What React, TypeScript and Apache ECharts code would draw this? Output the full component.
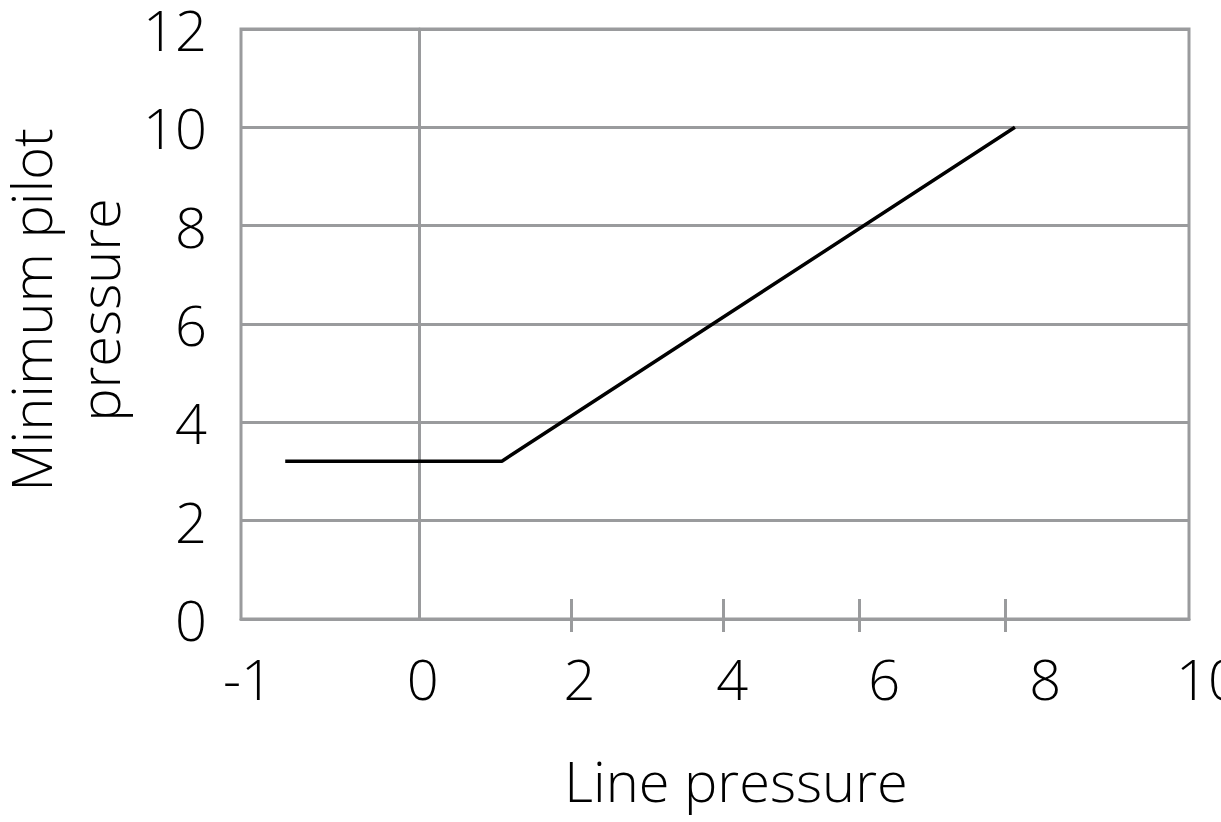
import React, { useEffect, useRef } from "react";
import * as echarts from "echarts";

// Data
const linePressure = [-1.76, 1.09, 7.84];
const minPilotPressure = [3.21, 3.21, 10];

const xTickLabels = ["-1", "0", "2", "4", "6", "8", "10"];
const xLabelPositions = [-2.25, 0.05, 2.11, 4.12, 6.12, 8.24, 10.13];
const xTickPositions = [2, 4, 5.79, 7.71];
const xGridLinePositions = [0];

const xMin = -2.342;
const xMax = 10.13;
const yMin = 0;
const yMax = 12;
const yStep = 2;

const GRAY = "#9a9b9d";
const FONT = "'Open Sans', Roboto, sans-serif";
const FS = 56;

export default function App() {
  const ref = useRef<HTMLDivElement | null>(null);

  useEffect(() => {
    if (!ref.current) return;
    const chart = echarts.init(ref.current, undefined, { renderer: "svg" });

    const labelFor = (v: number) => {
      let best = 0;
      let bd = Infinity;
      xLabelPositions.forEach((p, i) => {
        const d = Math.abs(p - v);
        if (d < bd) {
          bd = d;
          best = i;
        }
      });
      return best === xTickLabels.length - 1
        ? `{last|${xTickLabels[best]}}`
        : xTickLabels[best];
    };

    const textBase = {
      fontFamily: FONT,
      fontWeight: 300,
      fontSize: FS,
      color: "#000",
    };

    const option: any = {
      animation: false,
      backgroundColor: "#ffffff",
      grid: {
        left: 241,
        right: 1221 - 1189,
        top: 29,
        bottom: 822 - 619,
        containLabel: false,
        outerBoundsMode: "none",
        show: true,
        borderColor: GRAY,
        borderWidth: 3,
        backgroundColor: "transparent",
      },
      xAxis: [
        {
          type: "value",
          min: xMin,
          max: xMax,
          position: "bottom",
          name: "Line pressure",
          nameLocation: "middle",
          nameGap: 133,
          nameTextStyle: {
            ...textBase,
            padding: [0, 0, 0, 42],
          },
          axisLine: { show: true, lineStyle: { color: GRAY, width: 3 } },
          axisTick: {
            show: true,
            inside: true,
            length: 20,
            customValues: xTickPositions,
            lineStyle: { color: GRAY, width: 3 },
          },
          axisLabel: {
            show: true,
            customValues: xLabelPositions,
            margin: 31,
            ...textBase,
            lineHeight: FS,
            formatter: (v: number) => labelFor(v),
            rich: {
              last: {
                ...textBase,
                lineHeight: FS,
                padding: [0, 0, 0, 38],
              },
            },
          },
          splitLine: { show: false },
        },
        {
          type: "value",
          min: xMin,
          max: xMax,
          position: "bottom",
          axisLine: { show: false },
          axisTick: {
            show: true,
            inside: false,
            length: 13,
            customValues: xTickPositions,
            lineStyle: { color: GRAY, width: 3 },
          },
          axisLabel: { show: false },
          splitLine: { show: false },
        },
      ],
      yAxis: {
        type: "value",
        min: yMin,
        max: yMax,
        interval: yStep,
        name: "Minimum pilot\npressure",
        nameLocation: "middle",
        nameGap: 102,
        nameTextStyle: {
          ...textBase,
          lineHeight: 68,
          align: "center",
          padding: [0, 0, 0, 28],
        },
        axisLine: { show: true, lineStyle: { color: GRAY, width: 3 } },
        axisTick: { show: false },
        axisLabel: {
          margin: 34,
          ...textBase,
          lineHeight: 50,
        },
        splitLine: { show: true, lineStyle: { color: GRAY, width: 3 } },
      },
      series: [
        {
          type: "line",
          xAxisIndex: 0,
          data: [],
          z: 1,
          silent: true,
          markLine: {
            silent: true,
            symbol: ["none", "none"],
            label: { show: false },
            lineStyle: { color: GRAY, width: 3, type: "solid" },
            data: xGridLinePositions.map((x) => ({ xAxis: x })),
          },
        },
        {
          type: "line",
          xAxisIndex: 0,
          z: 5,
          data: linePressure.map((x, i) => [x, minPilotPressure[i]]),
          showSymbol: false,
          symbol: "none",
          lineStyle: { color: "#000", width: 3.5 },
          silent: true,
        },
      ],
    };

    chart.setOption(option);
    return () => chart.dispose();
  }, []);

  return (
    <div
      ref={ref}
      style={{ position: "fixed", left: 0, top: 0, width: 1221, height: 822 }}
    />
  );
}
